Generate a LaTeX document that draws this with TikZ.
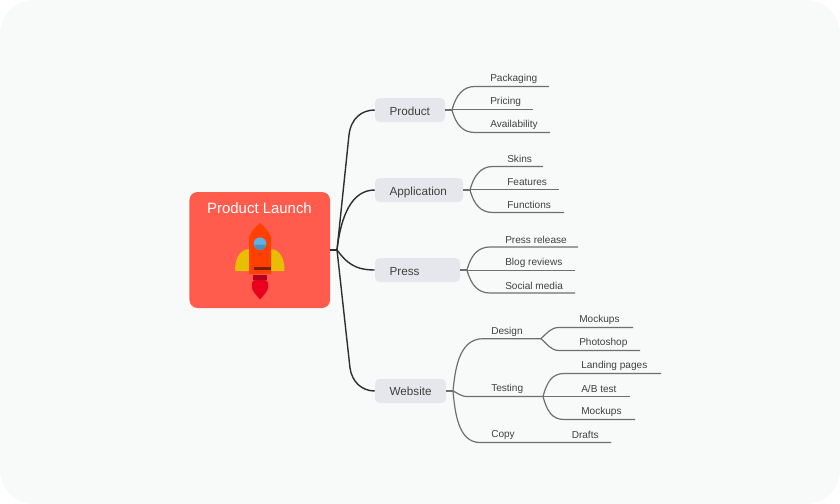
\documentclass[tikz,border=0pt]{standalone}
\usepackage{fontspec}
\setmainfont{Liberation Sans}
\definecolor{pagebg}{HTML}{F8FAF9}
\definecolor{rootred}{HTML}{FF5C4D}
\definecolor{topicfill}{HTML}{E6E7EC}
\definecolor{maincol}{HTML}{2E2E2E}
\definecolor{subcol}{HTML}{6F6F6F}
\definecolor{txtcol}{HTML}{404040}
\definecolor{wingcol}{HTML}{E8BE00}
\definecolor{bodycol}{HTML}{FF4000}
\definecolor{glasscol}{HTML}{5FB0E5}
\definecolor{glassdark}{HTML}{4E8FB5}
\definecolor{barcol}{HTML}{7A1E08}
\definecolor{nozzlecol}{HTML}{B5001E}
\definecolor{flamecol}{HTML}{E8001E}
\tikzset{
  topic/.style={fill=topicfill,rounded corners=3.5pt,minimum height=18pt,inner sep=0pt},
  topictext/.style={text=txtcol,inner sep=0pt,anchor=base west,font=\fontsize{8.8}{10}\selectfont},
  leaf/.style={anchor=west,inner sep=0pt,text=txtcol,font=\fontsize{7.55}{9}\selectfont},
  mainline/.style={draw=maincol,line width=1.05pt},
  subline/.style={draw=subcol,line width=0.9pt},
}
\begin{document}
\begin{tikzpicture}[x=0.75pt,y=-0.75pt]
\useasboundingbox (0,0) rectangle (840,504);
\fill[white] (0,0) rectangle (840,504);
\fill[pagebg,rounded corners=26pt] (0,0) rectangle (840,504);
% hubs and underline ends
\coordinate (hub) at (337,250);
\coordinate (hP) at (452,110);
\coordinate (hA) at (470,190);
\coordinate (hR) at (467,270);
\coordinate (hW) at (453,391);
\coordinate (eD) at (541,338.7);
\coordinate (eT) at (543,396.5);
% root
\node[fill=rootred,rounded corners=6pt,minimum width=105.4pt,minimum height=87pt,inner sep=0pt] (root) at (259.75,250) {};
\node[text=white,inner sep=0pt,font=\fontsize{11.2}{13}\selectfont] (roottitle) at (259.5,208.5) {Product Launch};
% rocket
\fill[wingcol] (249,249) .. controls (240,250) and (235,258) .. (235,271) -- (249,271) -- cycle;
\fill[wingcol] (271,249) .. controls (280,250) and (284.5,258) .. (284.5,271) -- (271,271) -- cycle;
\fill[bodycol] (260,223) .. controls (263,226) and (269,231) .. (271,237) -- (271,274) -- (249,274) -- (249,237) .. controls (251,231) and (257,226) .. (260,223) -- cycle;
\fill[glasscol] (260,243.7) circle[radius=6.3];
\fill[glassdark] (253.8,244.8) arc[start angle=190,end angle=350,x radius=6.3,y radius=-6.3] -- cycle;
\fill[barcol] (253.7,267.3) rectangle (270.7,270);
\fill[nozzlecol] (252.5,274.5) rectangle (267,279.5);
\fill[flamecol] (252,283) .. controls (252,281) and (254,280) .. (256,280) -- (264,280) .. controls (266,280) and (268,281) .. (268,283) -- (268,288) .. controls (268,291) and (262,297) .. (260,299.5) .. controls (258,297) and (252,291) .. (252,288) -- cycle;
% topics
\node[topic,minimum width=52.5pt] (product) at (410,110) {};
\node[topic,minimum width=66pt] (application) at (419,190) {};
\node[topic,minimum width=63.75pt] (press) at (417.5,270) {};
\node[topic,minimum width=53.25pt] (website) at (410.5,391) {};
\node[topictext] (tproduct) at (389.3,115) {Product};
\node[topictext] (tapp) at (389.3,195) {Application};
\node[topictext] (tpress) at (389.3,275.5) {Press};
\node[topictext] (tweb) at (389.3,395.5) {Website};
% main connectors
\draw[mainline] (root.east) -- (hub);
\draw[mainline] (hub) -- (349,135) .. controls (351,118) and (362,110) .. (product.west);
\draw[mainline] (hub) .. controls (341,215) and (352,190) .. (application.west);
\draw[mainline] (hub) .. controls (346,262) and (354,270) .. (press.west);
\draw[mainline] (hub) -- (350,368) .. controls (352,382) and (362,391) .. (website.west);
% Product branch
\draw[subline] (product.east) -- (hP);
\node[leaf] (n1) at (490,78.7) {Packaging};
\node[leaf] (n2) at (490,101.7) {Pricing};
\node[leaf] (n3) at (490,124.7) {Availability};
\coordinate (u1) at (549,86.5);
\coordinate (u2) at (533,109.5);
\coordinate (u3) at (550,132.5);
\draw[subline] (hP) .. controls (456,95) and (463,86.5) .. (475,86.5) -- (u1);
\draw[subline] (hP) |- (u2);
\draw[subline] (hP) .. controls (456,125) and (463,132.5) .. (475,132.5) -- (u3);
% Application branch
\draw[subline] (application.east) -- (hA);
\node[leaf] (n4) at (507,158.7) {Skins};
\node[leaf] (n5) at (507,181.7) {Features};
\node[leaf] (n6) at (507,204.7) {Functions};
\coordinate (u4) at (543,166.5);
\coordinate (u5) at (559,189.5);
\coordinate (u6) at (564,212.5);
\draw[subline] (hA) .. controls (474,175) and (481,166.5) .. (493,166.5) -- (u4);
\draw[subline] (hA) |- (u5);
\draw[subline] (hA) .. controls (474,205) and (481,212.5) .. (493,212.5) -- (u6);
% Press branch
\draw[subline] (press.east) -- (hR);
\node[leaf] (n7) at (505,239.7) {Press release};
\node[leaf] (n8) at (505,262.7) {Blog reviews};
\node[leaf] (n9) at (505,285.7) {Social media};
\coordinate (u7) at (578,247);
\coordinate (u8) at (575,270.4);
\coordinate (u9) at (575,293);
\draw[subline] (hR) .. controls (471,255) and (478,247) .. (490,247) -- (u7);
\draw[subline] (hR) |- (u8);
\draw[subline] (hR) .. controls (471,285) and (478,293) .. (490,293) -- (u9);
% Website branch
\draw[subline] (website.east) -- (hW);
\node[leaf] (n10) at (491,331.7) {Design};
\node[leaf] (n11) at (491,388.7) {Testing};
\node[leaf] (n12) at (491,435.2) {Copy};
\node[leaf] (n13) at (571.5,435.2) {Drafts};
\coordinate (u12) at (611,442.5);
\draw[subline] (hW) .. controls (455,372) and (458,338.7) .. (483,338.7) -- (eD);
\draw[subline] (hW) .. controls (458,393) and (460,396.5) .. (468,396.5) -- (eT);
\draw[subline] (hW) .. controls (455,412) and (458,442.5) .. (480,442.5) -- (u12);
% Design children
\node[leaf] (n14) at (579,319.7) {Mockups};
\node[leaf] (n15) at (579,342.7) {Photoshop};
\coordinate (u14) at (633,327.5);
\coordinate (u15) at (640,350.5);
\draw[subline] (eD) .. controls (547,333) and (551,327.5) .. (559,327.5) -- (u14);
\draw[subline] (eD) .. controls (547,344) and (551,350.5) .. (559,350.5) -- (u15);
% Testing children
\node[leaf] (n16) at (581,365.7) {Landing pages};
\node[leaf] (n17) at (581,388.7) {A/B test};
\node[leaf] (n18) at (581,411.7) {Mockups};
\coordinate (u16) at (661,373.5);
\coordinate (u17) at (630,396.5);
\coordinate (u18) at (635,419.5);
\draw[subline] (eT) .. controls (547,382) and (552,373.5) .. (564,373.5) -- (u16);
\draw[subline] (eT) -- (u17);
\draw[subline] (eT) .. controls (547,411) and (552,419.5) .. (564,419.5) -- (u18);
\end{tikzpicture}
\end{document}
